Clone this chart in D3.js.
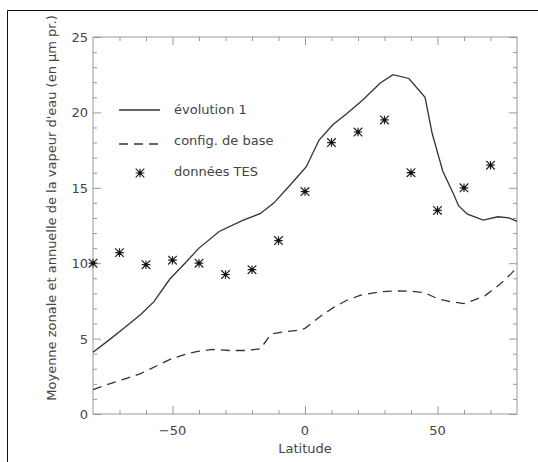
<!DOCTYPE html>
<meta charset="utf-8">
<style>
body { margin: 0; background: #fff; }
text { font-family: "DejaVu Sans", sans-serif; fill: #444; }
</style>
<svg id="chart" width="538" height="462"></svg>
<script src="https://cdn.jsdelivr.net/npm/d3@7"></script>
<script>
// latitude / water vapour column (precip. microns)
var evoLat = [-80, -74, -68.6, -62, -57, -51, -45.3, -40, -32.4, -23.3, -16.8, -11.7, -5, 0.5, 5.3, 10.6, 15.6, 22, 28.4, 33.2, 39.2, 45.3, 48, 52, 56, 58, 61.3, 67.3, 72.8, 77, 80];
var evoVal = [4.1, 4.9, 5.65, 6.6, 7.45, 8.95, 10.0, 11.0, 12.1, 12.85, 13.3, 14.0, 15.3, 16.4, 18.17, 19.2, 19.9, 20.85, 21.95, 22.5, 22.25, 21.0, 18.6, 16.1, 14.6, 13.8, 13.25, 12.86, 13.08, 13.0, 12.78];

var baseLat = [-80, -73.8, -67.3, -62, -55.6, -50.5, -44.6, -40.5, -34.9, -28.5, -22, -16.8, -12.8, -7.8, -2, 0, 6, 11.1, 16, 20.8, 28, 33.5, 40.2, 45, 50, 54.4, 60, 63.5, 68, 73.9, 77.8, 80];
var baseVal = [1.62, 2.0, 2.37, 2.68, 3.22, 3.66, 3.99, 4.15, 4.28, 4.21, 4.21, 4.33, 5.3, 5.45, 5.57, 5.68, 6.5, 7.1, 7.56, 7.87, 8.1, 8.16, 8.14, 8.05, 7.65, 7.47, 7.32, 7.54, 7.85, 8.65, 9.31, 9.7];

var tesLat = [-80, -70, -60, -50, -40, -30, -20, -10, 0, 10, 20, 30, 40, 50, 60, 70];
var tesVal = [10.0, 10.7, 9.9, 10.2, 10.0, 9.25, 9.57, 11.5, 14.75, 18.0, 18.7, 19.5, 16.0, 13.5, 15.0, 16.5];

var xTicks = [-50, 0, 50];
var yTicks = [0, 5, 10, 15, 20, 25];

var legendNames = ["évolution 1", "config. de base", "données TES"];

var svg = d3.select("#chart");
var L = 93, R = 517, T = 37, B = 414;

var x = d3.scaleLinear().domain([-80, 80]).range([L, R]);
var y = d3.scaleLinear().domain([0, 25]).range([B, T]);

// page frame (figure border)
svg.append("line").attr("x1", 7.5).attr("x2", 538).attr("y1", 10.5).attr("y2", 10.5)
  .attr("stroke", "#111").attr("stroke-width", 1);
svg.append("line").attr("x1", 7.5).attr("x2", 7.5).attr("y1", 10.5).attr("y2", 462)
  .attr("stroke", "#111").attr("stroke-width", 1);

var axisColor = "#999";
var minorX = d3.range(-70, 80, 10).filter(function(d){ return xTicks.indexOf(d) < 0; });
var minorY = d3.range(1, 25, 1).filter(function(d){ return yTicks.indexOf(d) < 0; });

function styleAxis(g) {
  g.select(".domain").remove();
  g.selectAll("line").attr("stroke", axisColor);
  g.selectAll("text").remove();
}

// major + minor ticks, inward on all four sides
[[d3.axisBottom, B, x, -8, xTicks], [d3.axisBottom, B, x, -4, minorX],
 [d3.axisTop, T, x, -8, xTicks], [d3.axisTop, T, x, -4, minorX]].forEach(function(a){
  svg.append("g").attr("transform", "translate(0," + a[1] + ")")
    .call(a[0](a[2]).tickValues(a[4]).tickSize(a[3])).call(styleAxis);
});
[[d3.axisLeft, L, y, -8, yTicks], [d3.axisLeft, L, y, -4, minorY],
 [d3.axisRight, R, y, -8, yTicks], [d3.axisRight, R, y, -4, minorY]].forEach(function(a){
  svg.append("g").attr("transform", "translate(" + a[1] + ",0)")
    .call(a[0](a[2]).tickValues(a[4]).tickSize(a[3])).call(styleAxis);
});

svg.append("rect").attr("x", L).attr("y", T).attr("width", R - L).attr("height", B - T)
  .attr("fill", "none").attr("stroke", axisColor).attr("stroke-width", 1);

// tick labels
svg.selectAll(".xl").data(xTicks).enter().append("text")
  .attr("x", function(d){ return x(d); }).attr("y", 435)
  .attr("text-anchor", "middle").attr("font-size", 13)
  .text(function(d){ return d < 0 ? "\u2212" + Math.abs(d) : d; });
svg.selectAll(".yl").data(yTicks).enter().append("text")
  .attr("x", 88).attr("y", function(d){ return y(d) + 5; })
  .attr("text-anchor", "end").attr("font-size", 13)
  .text(function(d){ return d; });

svg.append("text").attr("x", 305).attr("y", 453).attr("text-anchor", "middle")
  .attr("font-size", 13).text("Latitude");
svg.append("text").attr("transform", "translate(56,208) rotate(-90)")
  .attr("text-anchor", "middle").attr("font-size", 13)
  .text("Moyenne zonale et annuelle de la vapeur d'eau (en \u03bcm pr.)");

var line = d3.line().x(function(d){ return x(d[0]); }).y(function(d){ return y(d[1]); });

svg.append("path").datum(d3.zip(evoLat, evoVal)).attr("d", line)
  .attr("fill", "none").attr("stroke", "#333").attr("stroke-width", 1.3);
svg.append("path").datum(d3.zip(baseLat, baseVal)).attr("d", line)
  .attr("fill", "none").attr("stroke", "#333").attr("stroke-width", 1.3)
  .attr("stroke-dasharray", "9,6");

function star(g, cx, cy) {
  var s = 4.3;
  var p = d3.path();
  p.moveTo(cx - s, cy); p.lineTo(cx + s, cy);
  p.moveTo(cx, cy - s); p.lineTo(cx, cy + s);
  p.moveTo(cx - s, cy - s); p.lineTo(cx + s, cy + s);
  p.moveTo(cx - s, cy + s); p.lineTo(cx + s, cy - s);
  g.append("path").attr("d", p.toString()).attr("stroke", "#222")
    .attr("stroke-width", 1.2).attr("fill", "none");
  g.append("circle").attr("cx", cx).attr("cy", cy).attr("r", 1.8).attr("fill", "#111");
}

var stars = svg.append("g");
d3.zip(tesLat, tesVal).forEach(function(d){ star(stars, x(d[0]), y(d[1])); });

// legend
var lg = svg.append("g");
lg.append("line").attr("x1", 119).attr("x2", 160).attr("y1", 110).attr("y2", 110)
  .attr("stroke", "#333").attr("stroke-width", 1.3);
lg.append("line").attr("x1", 119).attr("x2", 160).attr("y1", 144).attr("y2", 144)
  .attr("stroke", "#333").attr("stroke-width", 1.3).attr("stroke-dasharray", "9,6");
star(lg, 140, 173);
lg.selectAll("text").data(legendNames).enter().append("text")
  .attr("x", 174).attr("y", function(d, i){ return 114 + i * 31; })
  .attr("font-size", 13).text(function(d){ return d; });
</script>
